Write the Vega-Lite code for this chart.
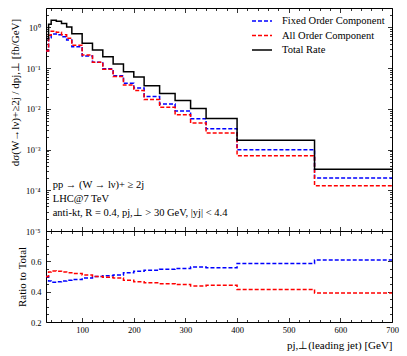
{
  "$schema": "https://vega.github.io/schema/vega-lite/v6.json",
  "autosize": {"type": "pad"},
  "padding": {"left": 9, "top": 3, "right": 8, "bottom": 4},
  "config": {
    "font": "Liberation Serif",
    "view": {"stroke": "black", "strokeWidth": 1},
    "axis": {"grid": false, "domain": false, "labelFont": "Liberation Serif", "titleFont": "Liberation Serif", "labelFontSize": 8.5, "titleFontSize": 11, "titleFontWeight": "normal", "labelColor": "black", "titleColor": "black", "tickColor": "black", "tickWidth": 0.8, "labelOverlap": false, "labelFlush": false, "labelBound": false}
  },
  "datasets": {
    "hist": [
      {"series": "Fixed Order Component", "pT": 30, "dsigma": 0.265, "ratio": 0.50},
      {"series": "Fixed Order Component", "pT": 35, "dsigma": 0.56, "ratio": 0.47},
      {"series": "Fixed Order Component", "pT": 40, "dsigma": 0.69, "ratio": 0.462},
      {"series": "Fixed Order Component", "pT": 50, "dsigma": 0.66, "ratio": 0.465},
      {"series": "Fixed Order Component", "pT": 60, "dsigma": 0.59, "ratio": 0.47},
      {"series": "Fixed Order Component", "pT": 70, "dsigma": 0.49, "ratio": 0.475},
      {"series": "Fixed Order Component", "pT": 80, "dsigma": 0.336, "ratio": 0.48},
      {"series": "Fixed Order Component", "pT": 100, "dsigma": 0.20, "ratio": 0.49},
      {"series": "Fixed Order Component", "pT": 120, "dsigma": 0.14, "ratio": 0.50},
      {"series": "Fixed Order Component", "pT": 140, "dsigma": 0.096, "ratio": 0.505},
      {"series": "Fixed Order Component", "pT": 160, "dsigma": 0.065, "ratio": 0.51},
      {"series": "Fixed Order Component", "pT": 180, "dsigma": 0.0425, "ratio": 0.525},
      {"series": "Fixed Order Component", "pT": 200, "dsigma": 0.0326, "ratio": 0.535},
      {"series": "Fixed Order Component", "pT": 220, "dsigma": 0.0201, "ratio": 0.542},
      {"series": "Fixed Order Component", "pT": 250, "dsigma": 0.0131, "ratio": 0.547},
      {"series": "Fixed Order Component", "pT": 280, "dsigma": 0.00885, "ratio": 0.553},
      {"series": "Fixed Order Component", "pT": 310, "dsigma": 0.00573, "ratio": 0.562},
      {"series": "Fixed Order Component", "pT": 340, "dsigma": 0.00324, "ratio": 0.558},
      {"series": "Fixed Order Component", "pT": 400, "dsigma": 0.000995, "ratio": 0.585},
      {"series": "Fixed Order Component", "pT": 550, "dsigma": 0.000201, "ratio": 0.609},
      {"series": "Fixed Order Component", "pT": 700, "dsigma": 0.000201, "ratio": 0.609},
      {"series": "All Order Component", "pT": 30, "dsigma": 0.265, "ratio": 0.50},
      {"series": "All Order Component", "pT": 35, "dsigma": 0.64, "ratio": 0.53},
      {"series": "All Order Component", "pT": 40, "dsigma": 0.805, "ratio": 0.537},
      {"series": "All Order Component", "pT": 50, "dsigma": 0.76, "ratio": 0.535},
      {"series": "All Order Component", "pT": 60, "dsigma": 0.66, "ratio": 0.53},
      {"series": "All Order Component", "pT": 70, "dsigma": 0.54, "ratio": 0.525},
      {"series": "All Order Component", "pT": 80, "dsigma": 0.364, "ratio": 0.52},
      {"series": "All Order Component", "pT": 100, "dsigma": 0.209, "ratio": 0.51},
      {"series": "All Order Component", "pT": 120, "dsigma": 0.14, "ratio": 0.50},
      {"series": "All Order Component", "pT": 140, "dsigma": 0.094, "ratio": 0.495},
      {"series": "All Order Component", "pT": 160, "dsigma": 0.062, "ratio": 0.49},
      {"series": "All Order Component", "pT": 180, "dsigma": 0.0385, "ratio": 0.475},
      {"series": "All Order Component", "pT": 200, "dsigma": 0.0284, "ratio": 0.465},
      {"series": "All Order Component", "pT": 220, "dsigma": 0.0169, "ratio": 0.458},
      {"series": "All Order Component", "pT": 250, "dsigma": 0.0109, "ratio": 0.453},
      {"series": "All Order Component", "pT": 280, "dsigma": 0.00715, "ratio": 0.447},
      {"series": "All Order Component", "pT": 310, "dsigma": 0.00447, "ratio": 0.438},
      {"series": "All Order Component", "pT": 340, "dsigma": 0.00256, "ratio": 0.442},
      {"series": "All Order Component", "pT": 400, "dsigma": 0.000706, "ratio": 0.415},
      {"series": "All Order Component", "pT": 550, "dsigma": 0.000129, "ratio": 0.391},
      {"series": "All Order Component", "pT": 700, "dsigma": 0.000129, "ratio": 0.391},
      {"series": "Total Rate", "pT": 30, "dsigma": 0.53},
      {"series": "Total Rate", "pT": 35, "dsigma": 1.2},
      {"series": "Total Rate", "pT": 40, "dsigma": 1.5},
      {"series": "Total Rate", "pT": 50, "dsigma": 1.42},
      {"series": "Total Rate", "pT": 60, "dsigma": 1.25},
      {"series": "Total Rate", "pT": 70, "dsigma": 1.03},
      {"series": "Total Rate", "pT": 80, "dsigma": 0.70},
      {"series": "Total Rate", "pT": 100, "dsigma": 0.41},
      {"series": "Total Rate", "pT": 120, "dsigma": 0.28},
      {"series": "Total Rate", "pT": 140, "dsigma": 0.19},
      {"series": "Total Rate", "pT": 160, "dsigma": 0.127},
      {"series": "Total Rate", "pT": 180, "dsigma": 0.081},
      {"series": "Total Rate", "pT": 200, "dsigma": 0.061},
      {"series": "Total Rate", "pT": 220, "dsigma": 0.037},
      {"series": "Total Rate", "pT": 250, "dsigma": 0.024},
      {"series": "Total Rate", "pT": 280, "dsigma": 0.016},
      {"series": "Total Rate", "pT": 310, "dsigma": 0.0102},
      {"series": "Total Rate", "pT": 340, "dsigma": 0.0058},
      {"series": "Total Rate", "pT": 400, "dsigma": 0.0017},
      {"series": "Total Rate", "pT": 550, "dsigma": 0.00033},
      {"series": "Total Rate", "pT": 700, "dsigma": 0.00033}
    ]
  },
  "spacing": 0,
  "bounds": "flush",
  "vconcat": [
    {
      "width": 346,
      "height": 223,
      "data": {"name": "hist"},
      "layer": [
        {
          "mark": {"type": "line", "interpolate": "step-after", "strokeWidth": 1.5},
          "encoding": {
            "x": {"field": "pT", "type": "quantitative", "scale": {"domain": [30, 700], "nice": false, "zero": false},
              "axis": {"orient": "bottom", "title": null, "labels": false,
                "values": [40,60,80,100,120,140,160,180,200,220,240,260,280,300,320,340,360,380,400,420,440,460,480,500,520,540,560,580,600,620,640,660,680,700],
                "tickSize": {"condition": {"test": "datum.value % 100 === 0", "value": -4.5}, "value": -2.5}}},
            "y": {"field": "dsigma", "type": "quantitative", "scale": {"type": "log", "domain": [0.00001, 3], "nice": false},
              "axis": {"orient": "left", "title": "dσ(W→lν)+≥2j / dpj,⊥ [fb/GeV]", "titlePadding": 5, "titleY": 84, "labelPadding": 10.5,
                "values": [0.00001,0.00002,0.00003,0.00004,0.00005,0.00006,0.00007,0.00008,0.00009,0.0001,0.0002,0.0003,0.0004,0.0005,0.0006,0.0007,0.0008,0.0009,0.001,0.002,0.003,0.004,0.005,0.006,0.007,0.008,0.009,0.01,0.02,0.03,0.04,0.05,0.06,0.07,0.08,0.09,0.1,0.2,0.3,0.4,0.5,0.6,0.7,0.8,0.9,1,2,3],
                "labelExpr": "abs(log(datum.value)/LN10 - round(log(datum.value)/LN10)) < 0.000001 ? '10' + ['⁰','⁻¹','⁻²','⁻³','⁻⁴','⁻⁵'][round(-log(datum.value)/LN10)] : ''",
                "tickSize": {"condition": {"test": "abs(log(datum.value)/LN10 - round(log(datum.value)/LN10)) < 0.000001", "value": -4.5}, "value": -2.5}}},
            "color": {"field": "series", "type": "nominal",
              "scale": {"domain": ["Fixed Order Component", "All Order Component", "Total Rate"], "range": ["#0000ff", "#ff0000", "#000000"]},
              "legend": {"orient": "none", "legendX": 210, "legendY": 7, "title": null, "symbolType": "M-2,0H2", "symbolSize": 100, "symbolStrokeWidth": 1.5, "labelFontSize": 10.5, "labelFont": "Liberation Serif", "labelColor": "black", "labelOffset": 14, "rowPadding": 2.5}},
            "strokeDash": {"field": "series", "type": "nominal",
              "scale": {"domain": ["Fixed Order Component", "All Order Component", "Total Rate"], "range": [[4, 2], [4, 2], [1, 0]]},
              "legend": {"orient": "none", "legendX": 210, "legendY": 7, "title": null, "symbolType": "M-2,0H2", "symbolSize": 100, "symbolStrokeWidth": 1.5, "labelFontSize": 10.5, "labelFont": "Liberation Serif", "labelColor": "black", "labelOffset": 14, "rowPadding": 2.5}}
          }
        },
        {
          "data": {"values": [{"note": "annotation"}]},
          "mark": {"type": "text", "align": "left", "baseline": "top", "fontSize": 10.5, "lineHeight": 14.3, "font": "Liberation Serif", "color": "black",
            "text": ["pp → (W → lν)+ ≥ 2j", "LHC@7 TeV", "anti-kt, R = 0.4, pj,⊥ > 30 GeV, |yj| < 4.4"]},
          "encoding": {
            "x": {"datum": 43, "type": "quantitative",
              "axis": {"orient": "top", "title": null, "labels": false,
                "values": [40,60,80,100,120,140,160,180,200,220,240,260,280,300,320,340,360,380,400,420,440,460,480,500,520,540,560,580,600,620,640,660,680,700],
                "tickSize": {"condition": {"test": "datum.value % 100 === 0", "value": -4.5}, "value": -2.5}}},
            "y": {"datum": 0.00018, "type": "quantitative",
              "axis": {"orient": "right", "title": null, "labels": false,
                "values": [0.00001,0.00002,0.00003,0.00004,0.00005,0.00006,0.00007,0.00008,0.00009,0.0001,0.0002,0.0003,0.0004,0.0005,0.0006,0.0007,0.0008,0.0009,0.001,0.002,0.003,0.004,0.005,0.006,0.007,0.008,0.009,0.01,0.02,0.03,0.04,0.05,0.06,0.07,0.08,0.09,0.1,0.2,0.3,0.4,0.5,0.6,0.7,0.8,0.9,1,2,3],
                "tickSize": {"condition": {"test": "abs(log(datum.value)/LN10 - round(log(datum.value)/LN10)) < 0.000001", "value": -4.5}, "value": -2.5}}}
          }
        }
      ],
      "resolve": {"axis": {"x": "independent", "y": "independent"}}
    },
    {
      "width": 346,
      "height": 91,
      "data": {"name": "hist"},
      "layer": [
        {
          "transform": [{"filter": "datum.series === 'Fixed Order Component'"}],
          "mark": {"type": "line", "interpolate": "step-after", "strokeWidth": 1.5, "color": "#0000ff", "strokeDash": [4, 2]},
          "encoding": {
            "x": {"field": "pT", "type": "quantitative", "scale": {"domain": [30, 700], "nice": false, "zero": false},
              "axis": {"orient": "bottom", "title": "pj,⊥(leading jet) [GeV]", "titleAnchor": "end", "titlePadding": 4, "labelPadding": 7.5,
                "values": [40,60,80,100,120,140,160,180,200,220,240,260,280,300,320,340,360,380,400,420,440,460,480,500,520,540,560,580,600,620,640,660,680,700],
                "labelExpr": "datum.value % 100 === 0 ? datum.label : ''",
                "tickSize": {"condition": {"test": "datum.value % 100 === 0", "value": -4.5}, "value": -2.5}}},
            "y": {"field": "ratio", "type": "quantitative", "scale": {"domain": [0.2, 0.8], "nice": false, "zero": false},
              "axis": {"orient": "left", "title": "Ratio to Total", "titlePadding": 3, "labelPadding": 9.5,
                "values": [0.2,0.25,0.3,0.35,0.4,0.45,0.5,0.55,0.6,0.65,0.7,0.75,0.8],
                "labelExpr": "datum.value < 0.7 && abs(datum.value*5 - round(datum.value*5)) < 0.000001 ? format(datum.value, '.1f') : ''",
                "tickSize": {"condition": {"test": "abs(datum.value*5 - round(datum.value*5)) < 0.000001", "value": -4.5}, "value": -2.5}}}
          }
        },
        {
          "transform": [{"filter": "datum.series === 'All Order Component'"}],
          "mark": {"type": "line", "interpolate": "step-after", "strokeWidth": 1.5, "color": "#ff0000", "strokeDash": [4, 2]},
          "encoding": {
            "x": {"field": "pT", "type": "quantitative",
              "axis": {"orient": "top", "title": null, "labels": false,
                "values": [40,60,80,100,120,140,160,180,200,220,240,260,280,300,320,340,360,380,400,420,440,460,480,500,520,540,560,580,600,620,640,660,680,700],
                "tickSize": {"condition": {"test": "datum.value % 100 === 0", "value": -4.5}, "value": -2.5}}},
            "y": {"field": "ratio", "type": "quantitative",
              "axis": {"orient": "right", "title": null, "labels": false,
                "values": [0.2,0.25,0.3,0.35,0.4,0.45,0.5,0.55,0.6,0.65,0.7,0.75,0.8],
                "tickSize": {"condition": {"test": "abs(datum.value*5 - round(datum.value*5)) < 0.000001", "value": -4.5}, "value": -2.5}}}
          }
        }
      ],
      "resolve": {"axis": {"x": "independent", "y": "independent"}}
    }
  ]
}
